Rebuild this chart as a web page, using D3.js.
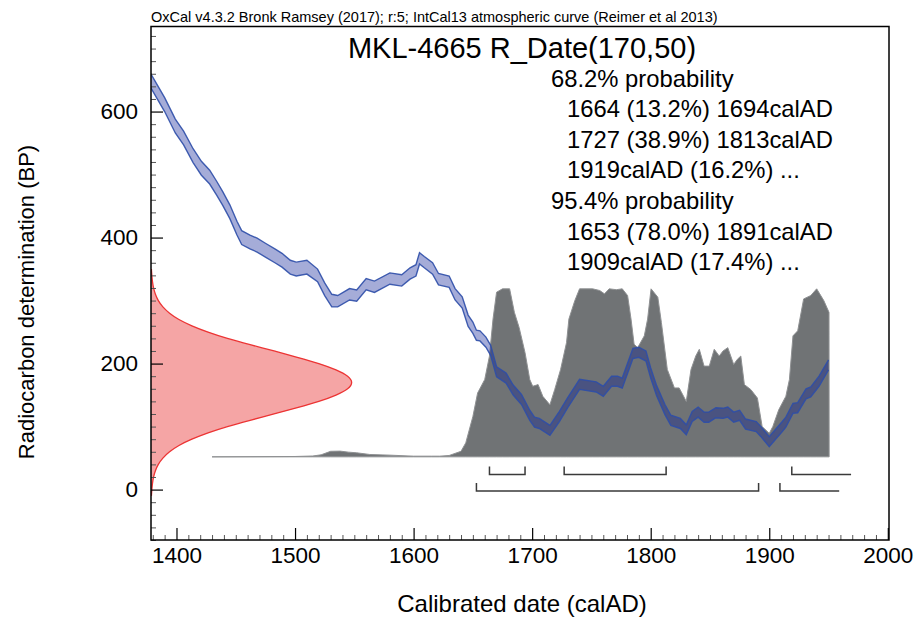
<!DOCTYPE html>
<html><head><meta charset="utf-8">
<script src="https://cdn.jsdelivr.net/npm/d3@7/dist/d3.min.js"></script>
<style>
html,body{margin:0;padding:0;background:#fff;}
svg{display:block;font-family:"Liberation Sans",Arial,sans-serif;}
</style></head>
<body><svg id="chart" width="917" height="617"></svg>
<script>
// ---- data ----
const curveYears = [1378,1390,1399,1406,1414,1421,1428,1434,1439,1445,1451,1455,1462,1468,1475,1483,1489,1496,1501,1510,1519,1525,1531,1536,1546,1552,1560,1567,1580,1590,1597,1602,1605,1609,1616,1621,1630,1635,1641,1646,1650,1653,1656,1661,1665,1670,1678,1684,1691,1698,1702,1706,1715,1723,1730,1740,1754,1760,1767,1772,1776,1785,1790,1796,1800,1805,1812,1817,1825,1830,1835,1840,1845,1849,1855,1861,1865,1870,1875,1880,1889,1893,1900,1905,1911,1914,1920,1924,1931,1935,1942,1950];
const curveBP = [650,611,577,558,530,510,496,478,462,441,415,400,393,388,380,371,364,353,350,353,340,318,300,299,310,308,326,322,335,332,343,348,367,361,351,334,330,310,297,268,257,245,244,234,221,187,177,158,143,118,107,105,94,116,138,167,163,156,172,172,169,216,218,212,185,157,127,110,105,95,116,123,115,115,122,121,123,115,118,104,100,92,76,87,100,107,129,130,152,155,172,198];
const curveSigma = [11,11,11,11,11,11,11,11,11,11,11,11,11,11,11,11,11,11,11,11,10,10,10,9,9,9,9,9,9,9,9,9,9,9,9,9,9,9,9,9,9,8,8,8,8,8,8,8,8,8,8,8,8,8,8,8,8,8,8,8,8,8,8,8,8,8,8,8,8,8,8,8,8,8,8,8,8,8,8,8,8,8,8,8,8,8,8,8,8,8,8,8];

const postYears = [1430,1500,1515,1522,1530,1538,1545,1552,1563,1580,1600,1615,1622,1630,1640,1644,1650,1654,1660,1664,1667,1670,1675,1681,1685,1689,1694,1698,1700.5,1705,1709,1715,1719,1724,1729,1731,1736,1740,1751,1757,1761,1765,1771,1776,1780.5,1783.4,1786,1789,1794.6,1797.4,1800.3,1806,1809,1814,1820,1824,1830,1834,1838,1841,1845,1849.4,1853.6,1857.8,1861,1865,1870,1873,1876,1879,1884.5,1890,1894,1900,1903,1908,1914,1917,1920,1924,1929,1935,1940,1946,1950.4,1950.5];
const postProb = [0,0.002,0.005,0.012,0.033,0.034,0.028,0.024,0.014,0.01,0.004,0.004,0.004,0.008,0.033,0.083,0.24,0.38,0.46,0.60,0.82,0.98,1.0,1.0,0.86,0.77,0.62,0.46,0.42,0.43,0.36,0.31,0.40,0.52,0.68,0.82,0.93,1.0,1.0,0.99,0.97,1.0,0.995,1.0,0.96,0.82,0.67,0.65,0.72,0.82,1.0,0.95,0.80,0.52,0.41,0.41,0.33,0.52,0.60,0.64,0.54,0.54,0.64,0.60,0.63,0.65,0.55,0.58,0.60,0.43,0.40,0.35,0.18,0.14,0.18,0.28,0.36,0.46,0.72,0.75,0.94,0.96,1.0,0.93,0.86,0];

const rdBP = [-10,0,10,20,30,40,50,60,70,80,90,100,110,120,130,140,150,160,170,180,190,200,210,220,230,240,250,260,270,280,290,300,310,320,330,340,350];
const rdProb = [0.002,0.004,0.007,0.012,0.021,0.035,0.057,0.09,0.135,0.2,0.28,0.375,0.49,0.61,0.725,0.835,0.92,0.98,1.0,0.98,0.92,0.835,0.725,0.61,0.49,0.375,0.28,0.2,0.135,0.09,0.057,0.035,0.021,0.012,0.007,0.004,0.002];

const range68Start = [1664,1727,1919];
const range68End   = [1694,1813,1969];
const range68Closed = [true,true,false];
const range95Start = [1653,1909];
const range95End   = [1891,1959];
const range95Closed = [true,false];

const xMajorTicks = [1400,1500,1600,1700,1800,1900,2000];
const yMajorTicks = [0,200,400,600];

const headerText = "OxCal v4.3.2 Bronk Ramsey (2017); r:5; IntCal13 atmospheric curve (Reimer et al 2013)";
const titleText = "MKL-4665 R_Date(170,50)";
const probLines = ["68.2% probability","1664 (13.2%) 1694calAD","1727 (38.9%) 1813calAD","1919calAD (16.2%) ...","95.4% probability","1653 (78.0%) 1891calAD","1909calAD (17.4%) ..."];
const probIndent = [false,true,true,true,false,true,true];
const xTitle = "Calibrated date (calAD)";
const yTitle = "Radiocarbon determination (BP)";

// ---- layout ----
const L = 151, R = 889, T = 26.5, B = 540;
const svg = d3.select("#chart");
const x = d3.scaleLinear().domain([1378.5, 2001]).range([L, R]);
const y = d3.scaleLinear().domain([-80, 735]).range([B, T]);
const postBase = 52;
const pScale = d3.scaleLinear().domain([0,1]).range([y(postBase), y(postBase) - 168]);
const rScale = d3.scaleLinear().domain([0,1]).range([L, L + 202]);

svg.append("defs").append("clipPath").attr("id","clip")
  .append("rect").attr("x",L).attr("y",T).attr("width",R-L).attr("height",B-T);

const plot = svg.append("g").attr("clip-path","url(#clip)");

// posterior (grey)
const postData = postYears.map((d,i)=>({yr:d,p:postProb[i]}));
plot.append("path").datum(postData)
  .attr("d", d3.area().x(d=>x(d.yr)).y0(pScale(0)).y1(d=>pScale(d.p)))
  .attr("fill","#707375").attr("stroke","#8f9193").attr("stroke-width",1);

// radiocarbon date (red)
const rdData = rdBP.map((d,i)=>({bp:d,p:rdProb[i]}));
plot.append("path").datum(rdData)
  .attr("d", d3.area().curve(d3.curveBasis).y(d=>y(d.bp)).x0(rScale(0)).x1(d=>rScale(d.p)))
  .attr("fill","#f5a5a5").attr("stroke","none");
plot.append("path").datum(rdData)
  .attr("d", d3.line().curve(d3.curveBasis).y(d=>y(d.bp)).x(d=>rScale(d.p)))
  .attr("fill","none").attr("stroke","#ec3434").attr("stroke-width",1.3);

// calibration curve (blue band)
const cData = curveYears.map((d,i)=>({yr:d,bp:curveBP[i],s:curveSigma[i]}));
plot.append("path").datum(cData)
  .attr("d", d3.area().x(d=>x(d.yr)).y0(d=>y(d.bp-d.s)).y1(d=>y(d.bp+d.s)))
  .attr("fill","#0a1e96").attr("fill-opacity",0.37);
[1,-1].forEach(sgn=>{
  plot.append("path").datum(cData)
    .attr("d", d3.line().x(d=>x(d.yr)).y(d=>y(d.bp+sgn*d.s)))
    .attr("fill","none").attr("stroke","#2d4ea8").attr("stroke-width",1.4).attr("stroke-opacity",0.9);
});

// range brackets
function brackets(starts, ends, closed, yy){
  starts.forEach((s,i)=>{
    const p = d3.path();
    p.moveTo(x(s), yy-8); p.lineTo(x(s), yy); p.lineTo(x(ends[i]), yy);
    if (closed[i]) p.lineTo(x(ends[i]), yy-8);
    svg.append("path").attr("d",p.toString()).attr("fill","none")
      .attr("stroke","#3a3a3a").attr("stroke-width",1.5);
  });
}
brackets(range68Start, range68End, range68Closed, 474.5);
brackets(range95Start, range95End, range95Closed, 491);

// axes
const xMinor = d3.range(1380, 2001, 10).filter(v=>!xMajorTicks.includes(v));
const yMinor = d3.range(-80, 736, 20).filter(v=>!yMajorTicks.includes(v));

const gxMin = svg.append("g").attr("transform",`translate(0,${B})`)
  .call(d3.axisBottom(x).tickValues(xMinor).tickSizeInner(-5).tickSizeOuter(0).tickFormat(""));
gxMin.select(".domain").remove();
gxMin.selectAll("line").attr("stroke","#555");
const gx = svg.append("g").attr("transform",`translate(0,${B})`)
  .call(d3.axisBottom(x).tickValues(xMajorTicks).tickSizeInner(-12).tickSizeOuter(0).tickPadding(7).tickFormat(d3.format("d")));
gx.select(".domain").remove();
gx.selectAll("line").attr("stroke","#000").attr("stroke-width",1.2);
gx.selectAll("text").attr("font-size",22.5).attr("fill","#000").attr("font-family","Liberation Sans, Arial, sans-serif");

const gyMin = svg.append("g").attr("transform",`translate(${L},0)`)
  .call(d3.axisLeft(y).tickValues(yMinor).tickSizeInner(-5).tickSizeOuter(0).tickFormat(""));
gyMin.select(".domain").remove();
gyMin.selectAll("line").attr("stroke","#555");
const gy = svg.append("g").attr("transform",`translate(${L},0)`)
  .call(d3.axisLeft(y).tickValues(yMajorTicks).tickSizeInner(-12).tickSizeOuter(0).tickPadding(13).tickFormat(d3.format("d")));
gy.select(".domain").remove();
gy.selectAll("line").attr("stroke","#000").attr("stroke-width",1.2);
gy.selectAll("text").attr("font-size",22.5).attr("fill","#000").attr("font-family","Liberation Sans, Arial, sans-serif");

// frame
svg.append("rect").attr("x",L).attr("y",T).attr("width",R-L).attr("height",B-T)
  .attr("fill","none").attr("stroke","#000").attr("stroke-width",1.5);

// texts
svg.append("text").attr("x",L).attr("y",22).attr("font-size",14.5).text(headerText);
svg.append("text").attr("x",522).attr("y",58).attr("text-anchor","middle").attr("font-size",29).text(titleText);
probLines.forEach((t,i)=>{
  svg.append("text").attr("x", probIndent[i] ? 567 : 551).attr("y", 86.5 + i*30.6)
    .attr("font-size",23.8).text(t);
});
svg.append("text").attr("x",522).attr("y",612).attr("text-anchor","middle").attr("font-size",24).text(xTitle);
svg.append("text").attr("transform","translate(34,302) rotate(-90)").attr("text-anchor","middle").attr("font-size",22).text(yTitle);
</script>
</body></html>
